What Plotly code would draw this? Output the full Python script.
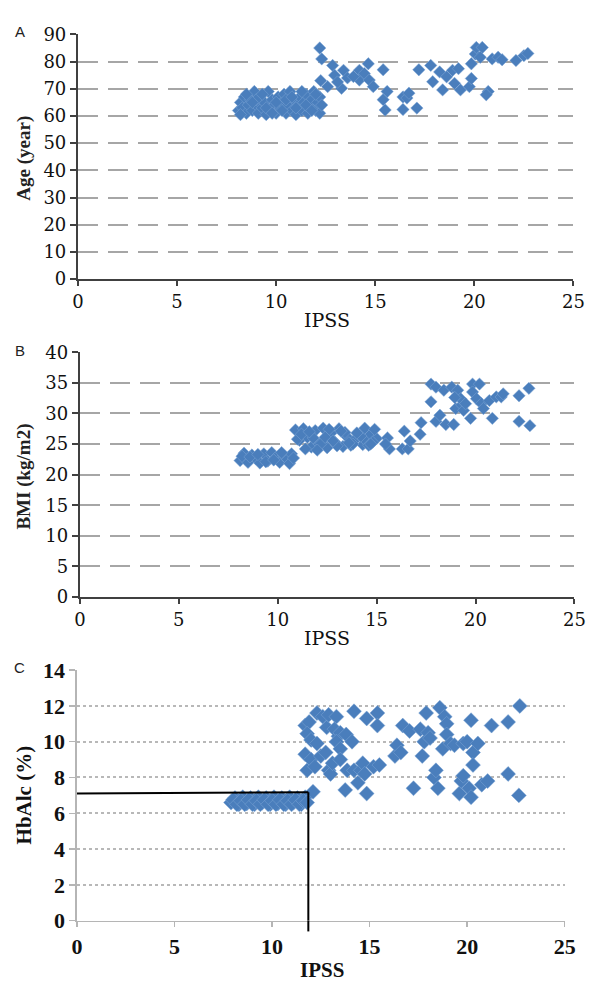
import plotly.graph_objects as go

# ---------------- data ----------------
# Panel A: IPSS vs Age
a_ipss = [8.1, 8.2, 8.3, 8.4, 8.5, 8.6, 8.7, 8.8, 8.9, 9.0, 9.1, 9.2, 9.3, 9.4, 9.5, 9.6, 9.7, 9.8, 9.9,
          10.0, 10.1, 10.2, 10.3, 10.4, 10.5, 10.6, 10.7, 10.8, 10.9, 11.0, 11.1, 11.2, 11.3, 11.4, 11.5,
          11.6, 11.7, 11.8, 11.9, 12.0, 12.1, 12.2, 12.2, 8.2, 8.5, 9.0, 9.5, 10.0, 10.5, 11.0, 11.5, 12.0,
          8.8, 9.8, 10.8, 11.8, 9.3, 10.3, 11.3, 12.3,
          12.2, 12.3, 12.25, 12.85, 12.95, 12.6, 13.3, 13.4, 13.1, 13.6, 14.2, 14.2, 14.65, 14.45, 14.7, 14.9,
          13.9, 15.4, 15.6, 15.4, 15.5, 16.4, 16.6, 16.7, 16.4, 17.1, 17.2, 17.8, 17.9, 18.25, 18.4, 18.6,
          18.9, 19.0, 19.3, 19.2, 19.75, 19.85, 19.85, 20.05, 20.1, 20.4, 20.3, 20.7, 20.6, 20.9, 21.2,
          21.4, 22.1, 22.5, 22.7]
a_age = [62, 65, 63, 67, 61, 64, 66, 62, 69, 64, 61, 67, 63, 65, 60.5, 69, 62, 66, 64,
         61, 67, 63, 65, 68, 61, 64, 69, 62, 66, 60.5, 64, 67, 62, 65, 68,
         61, 64, 66, 69, 62, 65, 67, 61, 60.5, 68, 66, 63, 65, 66, 63, 64, 68,
         65, 61, 67, 62, 68, 62, 69, 64,
         85, 81, 73, 78.6, 75, 70.8, 70.2, 76.8, 72.5, 74, 76.8, 73.2, 79.2, 75.6, 73.2, 70.8,
         74.5, 77, 69, 66, 62.2, 67, 66.6, 68.4, 62.4, 62.9, 77, 78.6, 72.6, 76.2, 69.6, 74.4,
         76.8, 72, 69.6, 77.4, 70.8, 73.8, 79.2, 82.8, 85.2, 85.2, 81.6, 69, 67.8, 81, 81.6,
         80.7, 80.4, 82.2, 83]

# Panel B: IPSS vs BMI
b_ipss = [8.1, 8.3, 8.5, 8.7, 8.9, 9.1, 9.3, 9.5, 9.7, 9.9, 10.1, 10.3, 10.5, 10.7, 8.2, 8.6, 9.0, 9.4,
          9.8, 10.2, 10.6, 10.8,
          10.9, 11.1, 11.3, 11.5, 11.7, 11.9, 12.1, 12.3, 12.5, 12.7, 12.9, 13.1, 13.3, 13.5, 13.7, 13.9,
          14.1, 14.3, 14.5, 14.7, 11.0, 11.4, 11.8, 12.2, 12.6, 13.0, 13.4, 13.8, 14.2, 14.6, 15.0,
          11.2, 11.6, 12.0, 12.4, 12.8, 13.2, 13.6, 14.0, 14.4, 14.8,
          15.55, 15.65, 15.45, 14.9, 14.7, 16.4, 16.3, 16.6, 16.7, 17.2, 17.25,
          17.75, 17.75, 18.0, 18.0, 18.2, 18.4, 18.5, 18.8, 18.9, 19.0, 19.1, 19.3, 19.4, 19.75, 19.85,
          19.85, 20.05, 20.2, 20.3, 20.4, 20.7, 20.85, 21.05, 21.3, 21.4, 22.2, 22.2, 22.7, 22.75,
          19.25, 19.5, 18.95]
b_bmi = [22.3, 23.5, 22.0, 23.2, 22.6, 21.9, 23.4, 22.2, 23.6, 22.8, 22.0, 23.1, 22.5, 23.4, 23.0, 22.9,
         23.3, 22.1, 22.4, 23.6, 21.8, 22.7,
         27.3, 25.6, 27.5, 26.1, 24.5, 27.2, 25.0, 27.6, 24.4, 26.8, 25.3, 27.5, 24.6, 26.2, 24.8, 25.7,
         26.5, 24.9, 25.4, 26.6, 25.8, 24.2, 26.0, 25.1, 27.4, 24.7, 26.9, 25.0, 26.3, 24.8, 25.9,
         26.6, 27.0, 24.0, 26.1, 25.5, 27.1, 25.2, 26.8, 27.6, 25.3,
         26.0, 24.2, 25.0, 27.4, 25.0, 27.1, 24.2, 24.2, 25.5, 26.6, 28.5,
         34.8, 31.9, 34.3, 28.7, 29.7, 33.8, 28.2, 34.3, 28.2, 30.8, 33.8, 31.4, 30.5, 29.2, 34.8,
         33.5, 32.4, 34.8, 31.6, 30.8, 32.1, 29.2, 32.7, 32.7, 33.2, 32.9, 28.7, 34.1, 28.0,
         32.4, 31.6, 32.6]

# Panel C: IPSS vs HbAlc
c_ipss = [7.9, 8.1, 8.3, 8.5, 8.7, 8.9, 9.1, 9.3, 9.5, 9.7, 9.9, 10.1, 10.3, 10.5, 10.7, 10.9, 11.1,
          11.3, 11.5, 11.7,
          8.0, 8.2, 8.4, 8.6, 8.8, 9.0, 9.2, 9.4, 9.6, 9.8, 10.0, 10.2, 10.4, 10.6, 10.8, 11.0, 11.2,
          11.4, 11.6, 11.8,
          12.1, 11.7, 11.9, 11.8, 12.0, 12.3, 11.7, 11.8, 12.0, 12.2, 12.3, 12.6, 12.5, 12.75, 12.8,
          12.9, 12.9, 13.0, 13.1, 13.3, 13.2, 13.4, 13.5, 13.3, 13.5, 13.5, 13.8, 13.75, 13.85, 14.2,
          14.1, 14.2, 14.4, 14.55, 14.65, 14.75, 14.85, 14.85, 15.4, 15.4, 15.2, 15.5, 16.3, 16.4,
          16.6, 16.7, 17.05, 17.25, 17.7, 17.6, 17.9, 17.8, 18.0, 18.1, 18.3, 18.4, 18.5, 18.6,
          18.75, 18.85, 18.95, 18.95, 19.15, 19.35, 19.6, 19.7, 19.8, 19.8, 20.0, 20.1, 20.2, 20.2,
          20.3, 20.3, 20.55, 20.75, 21.05, 21.25, 22.1, 22.1, 22.65, 22.7]
c_hba1c = [6.6, 6.85, 6.5, 6.9, 6.55, 6.85, 6.5, 6.9, 6.6, 6.85, 6.5, 6.9, 6.55, 6.85, 6.5, 6.9, 6.6,
           6.85, 6.5, 6.9,
           6.75, 6.5, 6.7, 6.5, 6.75, 6.5, 6.7, 6.5, 6.75, 6.5, 6.7, 6.5, 6.75, 6.5, 6.7, 6.5, 6.75,
           6.5, 6.7, 6.6,
           7.2, 10.9, 11.1, 10.45, 10.1, 9.9, 9.3, 8.4, 9.0, 8.6, 11.6, 11.4, 9.2, 9.4, 10.8,
           11.5, 8.4, 8.2, 8.8, 11.4, 10.7, 10.3, 10.5, 10.0, 9.6, 9.0, 10.4, 7.3, 8.4, 11.7,
           10.0, 8.4, 7.7, 8.4, 8.8, 8.2, 7.1, 11.3, 11.6, 10.9, 8.6, 8.7, 9.2, 9.8,
           9.4, 10.9, 10.6, 7.4, 9.2, 10.7, 11.6, 10.0, 10.5, 10.2, 8.0, 8.4, 7.4, 11.9,
           9.6, 11.4, 11.0, 10.4, 9.9, 9.8, 7.1, 7.8, 9.9, 8.1, 10.0, 7.4, 6.9, 11.2,
           9.4, 8.7, 9.9, 7.6, 7.8, 10.9, 11.1, 8.2, 7.0, 12.0]

# threshold lines in panel C
thr_ipss = 11.86
thr_hba1c_start = 7.1
thr_hba1c_end = 7.18
thr_below = -0.6   # how far the vertical line runs below the axis (in HbAlc units)

x_ticks = [0, 5, 10, 15, 20, 25]
a_ticks = [0, 10, 20, 30, 40, 50, 60, 70, 80, 90]
b_ticks = [0, 5, 10, 15, 20, 25, 30, 35, 40]
c_ticks = [0, 2, 4, 6, 8, 10, 12, 14]

# ---------------- figure ----------------
BLUE = "rgb(74,126,188)"
W, H = 600, 999

def px(v):
    return v / W

def py(v):
    return 1 - v / H

fig = go.Figure()
mk_line = dict(color="rgb(125,165,212)", width=0.5)
fig.add_trace(go.Scatter(x=a_ipss, y=a_age, mode="markers", xaxis="x", yaxis="y",
                         marker=dict(symbol="diamond", size=9.5, color=BLUE, line=mk_line),
                         cliponaxis=False, showlegend=False, hoverinfo="skip"))
fig.add_trace(go.Scatter(x=b_ipss, y=b_bmi, mode="markers", xaxis="x2", yaxis="y2",
                         marker=dict(symbol="diamond", size=9.5, color=BLUE, line=mk_line),
                         cliponaxis=False, showlegend=False, hoverinfo="skip"))
fig.add_trace(go.Scatter(x=c_ipss, y=c_hba1c, mode="markers", xaxis="x3", yaxis="y3",
                         marker=dict(symbol="diamond", size=11.5, color=BLUE, line=mk_line),
                         cliponaxis=False, showlegend=False, hoverinfo="skip"))

serifAB = "DejaVu Serif"
serifC = "Liberation Serif"
tickA = dict(family=serifAB, size=18, color="#111")
tickC = dict(family=serifC, size=22, color="#111", weight="bold")

def xax(domain, anchor, linecolor, lw, tf):
    return dict(domain=domain, anchor=anchor, range=[0, 25], tickvals=x_ticks,
                showline=True, linecolor=linecolor, linewidth=lw, ticks="outside",
                ticklen=5, tickwidth=lw, tickcolor=linecolor, showgrid=False,
                zeroline=False, tickfont=tf, fixedrange=True)

def yax(domain, anchor, rng, tv, linecolor, lw, tf, gridcolor, griddash, gw):
    return dict(domain=domain, anchor=anchor, range=rng, tickvals=tv,
                showline=True, linecolor=linecolor, linewidth=lw, ticks="outside",
                ticklen=6, tickwidth=lw, tickcolor=linecolor, showgrid=True,
                gridcolor=gridcolor, griddash=griddash, gridwidth=gw,
                zeroline=False, tickfont=tf, fixedrange=True)

dA_x = [px(74), px(584)]; dA_y = [py(274), py(23)]
dB_x = [px(76), px(585)]; dB_y = [py(600), py(349)]
dC_x = [px(73), px(575)]; dC_y = [py(932), py(675)]

fig.update_layout(
    width=W, height=H,
    margin=dict(l=0, r=0, t=0, b=0),
    paper_bgcolor="white", plot_bgcolor="white",
    xaxis=xax(dA_x, "y", "#404040", 2, tickA),
    yaxis=yax(dA_y, "x", [0, 90], a_ticks, "#404040", 2, tickA, "#a6a6a6", "20px,10px", 2),
    xaxis2=xax(dB_x, "y2", "#404040", 2, tickA),
    yaxis2=yax(dB_y, "x2", [0, 40], b_ticks, "#404040", 2, tickA, "#a6a6a6", "20px,10px", 2),
    xaxis3=xax(dC_x, "y3", "#b5b5b5", 1.5, tickC),
    yaxis3=yax(dC_y, "x3", [0, 14], c_ticks, "#b5b5b5", 1.5, tickC, "#b8b8b8", "dot", 2),
    showlegend=False,
    hovermode=False,
)

# threshold lines (panel C)
fig.add_shape(type="line", xref="x3", yref="y3", x0=0, x1=thr_ipss,
              y0=thr_hba1c_start, y1=thr_hba1c_end, line=dict(color="black", width=2))
fig.add_shape(type="line", xref="x3", yref="y3", x0=thr_ipss, x1=thr_ipss,
              y0=thr_hba1c_end, y1=0, line=dict(color="black", width=2))
c_frac_per_unit = (dC_y[1] - dC_y[0]) / 14.0
fig.add_shape(type="line", xref="x3", yref="paper", x0=thr_ipss, x1=thr_ipss,
              y0=dC_y[0], y1=dC_y[0] + thr_below * c_frac_per_unit,
              line=dict(color="black", width=2))

# panel letters
for letter, ypx in [("A", 20), ("B", 347), ("C", 672)]:
    fig.add_annotation(text=letter, x=px(14), y=py(ypx), xref="paper", yref="paper",
                       xanchor="center", yanchor="middle", showarrow=False,
                       font=dict(family="Liberation Sans", size=15, color="#222"))

# axis titles
titles = [
    ("IPSS", px(330), py(316), 0, dict(family=serifAB, size=19, color="#111")),
    ("IPSS", px(330), py(642), 0, dict(family=serifAB, size=19, color="#111")),
    ("IPSS", px(325), py(983), 0, dict(family=serifC, size=21, color="#111", weight="bold")),
    ("Age (year)", px(19), py(150), -90, dict(family=serifC, size=19, color="#222", weight="bold")),
    ("BMI (kg/m2)", px(19), py(476), -90, dict(family=serifC, size=19, color="#222", weight="bold")),
    ("HbAlc (%)", px(18), py(803), -90, dict(family=serifC, size=21, color="#111", weight="bold")),
]
for t, x, y, ang, f in titles:
    fig.add_annotation(text=t, x=x, y=y, xref="paper", yref="paper", showarrow=False,
                       xanchor="center", yanchor="middle", textangle=ang, font=f)

fig.write_html("out.html", config={"displayModeBar": False, "staticPlot": True},
               post_script="document.body.style.margin='0px';")
